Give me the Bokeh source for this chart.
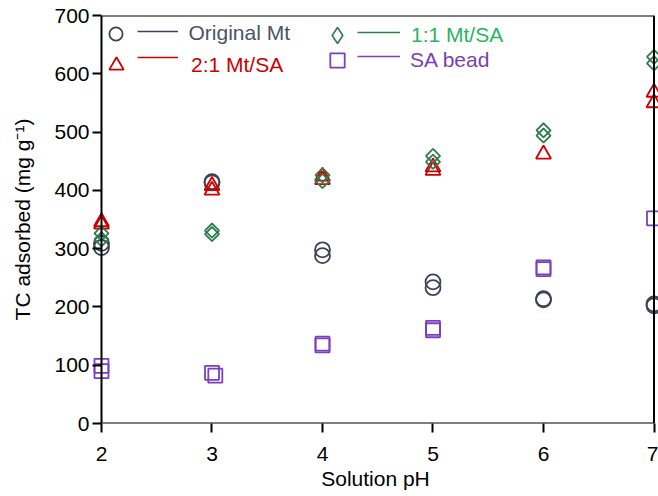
import numpy as np
from bokeh.plotting import figure
from bokeh.models import Range1d, Legend, LegendItem, BoxAnnotation, FixedTicker
from bokeh.embed import file_html
from bokeh.resources import INLINE

# ---- data ----
ph_orig = [2, 2, 3, 3, 4, 4, 5, 5, 6, 6, 7, 7]
tc_orig = [309, 302, 415, 413, 298, 288, 243, 233, 214, 212, 205, 202]

ph_21 = [2, 2, 3, 3, 4, 4, 5, 5, 6, 7, 7]
tc_21 = [346, 342, 408, 400, 424, 418, 440, 434, 462, 568, 550]

ph_11 = [2, 2, 3, 3, 4, 4, 5, 5, 6, 6, 7, 7]
tc_11 = [326, 316, 331, 325, 426, 416, 459, 449, 503, 494, 629, 618]

ph_sa = [2, 2, 3, 3.03, 4, 4, 5, 5, 6, 6, 7]
tc_sa = [99, 90, 87, 82, 137, 134, 164, 160, 268, 265, 352]

series_names = ["Original Mt", "2:1 Mt/SA", "1:1 Mt/SA", "SA bead"]
x_ticks = [2, 3, 4, 5, 6, 7]
y_ticks = [0, 100, 200, 300, 400, 500, 600, 700]
x_title = "Solution pH"
y_title = "TC adsorbed (mg g\u207b\u00b9)"

FONT = "Liberation Sans"
FS = "21px"

FL, FB = 92, 423  # frame left / bottom in pixels

p = figure(width=658, height=496, output_backend="svg", toolbar_location=None,
           x_range=Range1d(1.9186, 7.0407), y_range=Range1d(0, 700),
           min_border_left=FL, min_border_right=0, min_border_top=15,
           min_border_bottom=496 - FB)
p.outline_line_color = None
p.grid.visible = False

xa = p.xaxis[0]
ya = p.yaxis[0]
xa.ticker = FixedTicker(ticks=x_ticks)
ya.ticker = FixedTicker(ticks=y_ticks)
for ax in (xa, ya):
    ax.axis_line_color = None
    ax.major_tick_line_color = "black"
    ax.major_tick_line_width = 2
    ax.minor_tick_line_color = None
    ax.major_label_text_font = FONT
    ax.major_label_text_font_size = FS
    ax.major_label_text_color = "black"
    ax.axis_label_text_font = FONT
    ax.axis_label_text_font_size = FS
    ax.axis_label_text_font_style = "normal"
    ax.axis_label_text_color = "black"
xa.major_tick_in = 0
xa.major_tick_out = 9
xa.major_label_standoff = 14
xa.axis_label_standoff = 3
xa.axis_label = x_title
# y axis sits at the frame edge; its ticks reach in to the x=2 border line
ya.major_tick_in = 9
ya.major_tick_out = 0
ya.major_label_standoff = 3
ya.axis_label_standoff = 17
ya.axis_label = y_title

box = BoxAnnotation(left=2, right=7, bottom=0, top=700, fill_color=None, fill_alpha=0,
                    line_color="black", line_alpha=1, line_width=2)
p.add_layout(box)

LW = 1.8
C_ORIG, C_21, C_11, C_SA = "#3b4556", "#cc0000", "#2e7d4e", "#7b3fbf"
r_orig = p.scatter(ph_orig, tc_orig, marker="circle", size=15, fill_color=None,
                   line_color=C_ORIG, line_width=LW)
r_21 = p.scatter(ph_21, tc_21, marker="triangle", size=15, fill_color=None,
                 line_color=C_21, line_width=LW)
r_11 = p.scatter(ph_11, tc_11, marker="square", angle=np.pi / 4, size=10, fill_color=None,
                 line_color=C_11, line_width=LW)
r_sa = p.scatter(ph_sa, tc_sa, marker="square", size=14, fill_color=None,
                 line_color=C_SA, line_width=LW)
# legend-only diamond (legend glyphs are not rotated)
r_11_leg = p.scatter(ph_11, tc_11, marker="diamond", size=15, fill_color=None,
                     line_color=C_11, line_width=1.6, visible=False)

# legend: marker (with coloured label) and a separate short line between them
specs = [
    # renderer, label, text color, line color, line data, marker center, G, text x, text dy, x0, x1, line y
    (r_orig, series_names[0], "#4a5466", C_ORIG, (ph_orig, tc_orig), (115, 33), 33, 189, 0, 137, 178, 31),
    (r_21, series_names[1], "#cc0000", C_21, (ph_21, tc_21), (116, 57), 36, 191, 8, 137, 178, 57),
    (r_11_leg, series_names[2], "#2ab565", C_11, (ph_11, tc_11), (337, 30), 40, 411, 5, 357, 400, 32),
    (r_sa, series_names[3], "#7b3fb0", C_SA, (ph_sa, tc_sa), (337, 57), 36, 410, 3, 357, 400, 56),
]
for r, lab, tcol, lcol, (lx, lyv), (mx, my), G, tx, dy, x0, x1, ly in specs:
    H = G + 2 * dy
    leg = Legend(items=[LegendItem(label=lab, renderers=[r])],
                 location=(mx - G / 2 - FL, FB - (my - G / 2 + H)),
                 glyph_width=G, glyph_height=G, label_height=H,
                 label_standoff=int(tx - (mx + G / 2)),
                 label_text_font=FONT, label_text_font_size=FS, label_text_color=tcol,
                 padding=0, margin=0, spacing=0, border_line_color=None,
                 background_fill_alpha=0)
    p.add_layout(leg)
    lr = p.line(lx, lyv, line_color=lcol, line_width=1.6, visible=False)
    leg2 = Legend(items=[LegendItem(label=" ", renderers=[lr])],
                  location=(x0 - FL, FB - (ly + 10)),
                  glyph_width=x1 - x0, glyph_height=20, label_standoff=0,
                  label_width=0, label_text_font_size="1px",
                  padding=0, margin=0, spacing=0, border_line_color=None,
                  background_fill_alpha=0)
    p.add_layout(leg2)

open("out.html", "w").write(file_html(p, INLINE))
